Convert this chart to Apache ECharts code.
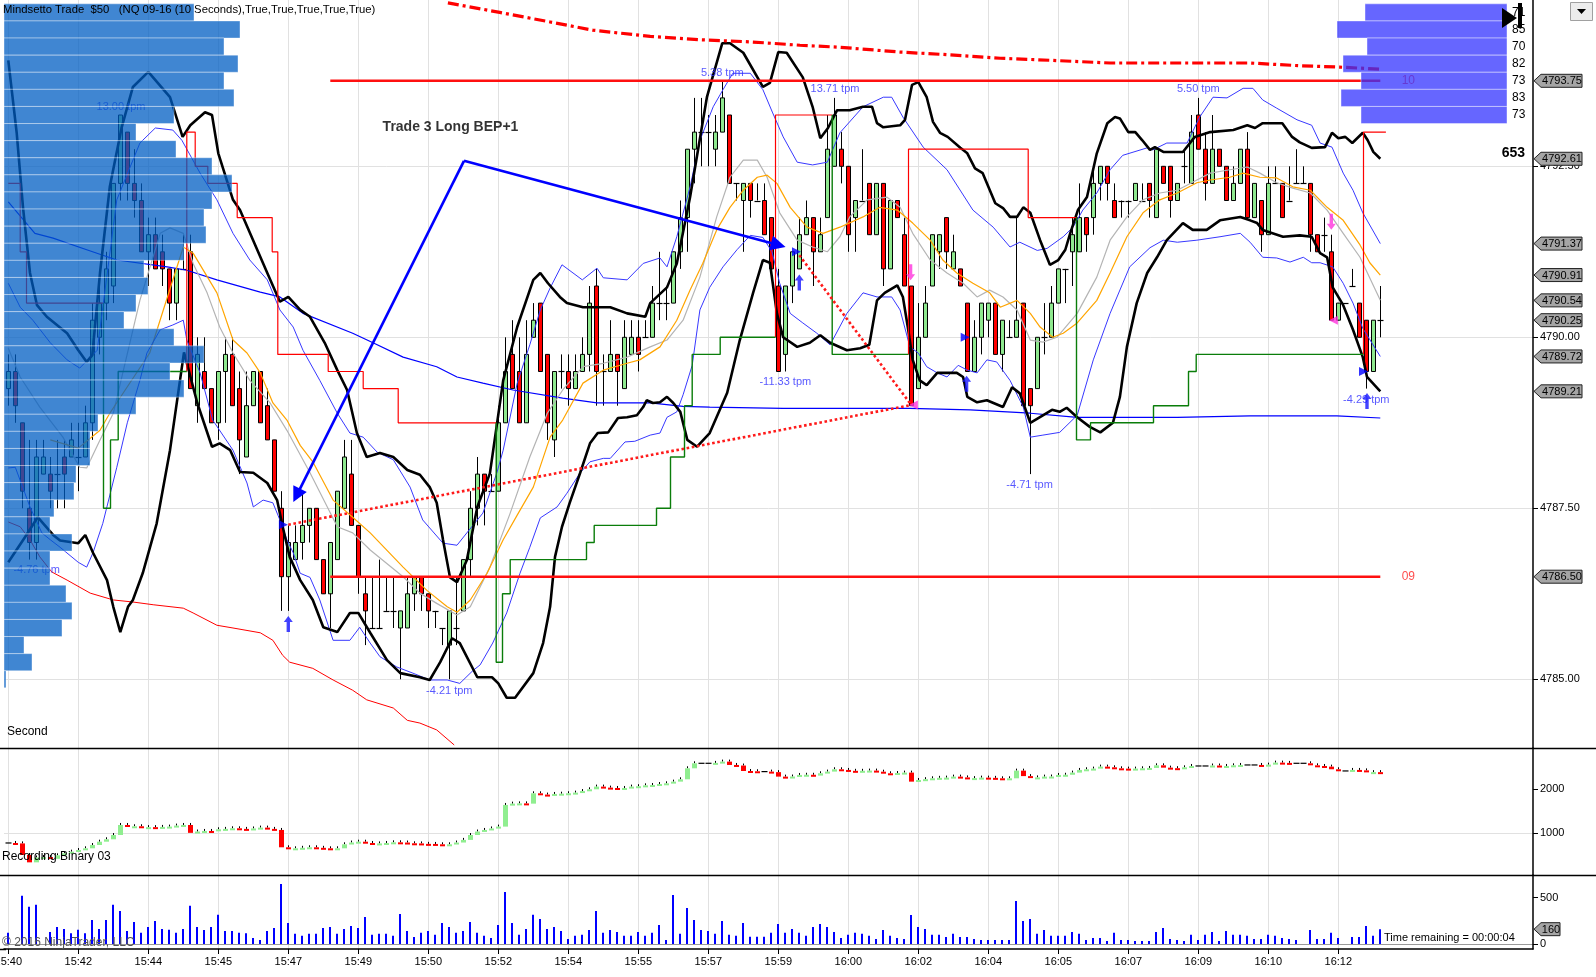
<!DOCTYPE html>
<html>
<head>
<meta charset="utf-8">
<script src="https://cdn.jsdelivr.net/npm/echarts@6/dist/echarts.min.js"></script>
<style>html,body{margin:0;padding:0;background:#fff;overflow:hidden}#chart{width:1596px;height:977px}</style>
</head>
<body>
<div id="chart"></div>
<script>
// ---------------- DATA ----------------
const timeLabels = ['15:40','15:42','15:44','15:45','15:47','15:49','15:50','15:52','15:54','15:55','15:57','15:59','16:00','16:02','16:04','16:05','16:07','16:09','16:10','16:12'];
const timeTickIdx = [0,10,20,30,40,50,60,70,80,90,100,110,120,130,140,150,160,170,180,190];
const priceTicks = [4785, 4787.5, 4790, 4792.5];
const binaryTicks = [1000, 2000];
const volumeTicks = [0, 500];

// [open, close, low, high] per 10-second bar
const priceBars = [
[4789.25,4789.5,4789,4789.75],[4789.5,4789,4788.75,4789.75],[4788.75,4787.75,4787.5,4788.75],[4787.5,4787,4786.75,4788.5],[4787,4788.25,4786.75,4788.5],
[4788,4788.25,4788,4788.5],[4788,4787.75,4787.5,4788.25],[4788,4788,4787.5,4788.5],[4788.25,4788,4787.5,4788.5],[4788.25,4788.5,4788.25,4788.75],
[4788.25,4788.25,4787.75,4788.75],[4788.25,4788.75,4788.25,4789],[4788.75,4790.25,4788.5,4790.5],[4790,4790.5,4789.75,4790.75],[4790.5,4791,4790.25,4791.25],
[4790.75,4792.25,4790.5,4792.25],[4792.25,4793.25,4792,4793.25],[4793,4792.25,4792,4793],[4792.25,4792,4791.75,4792.75],[4792,4791.25,4791.25,4792.25],
[4791.25,4791.5,4790.75,4791.75],[4791.5,4791,4791,4791.75],[4791.25,4791,4790.75,4791.5],[4791,4790.5,4790.25,4791],[4790.5,4791,4790.25,4791],
[4791,4791,4791,4791.5],[4791.25,4789.25,4789.25,4791.5],[4789,4789.75,4788.75,4790],[4789.5,4789.25,4789.25,4790],[4789.25,4788.75,4788.75,4789.25],
[4788.75,4789.5,4788.5,4789.5],[4789.5,4789.75,4788.75,4790],[4789.75,4789,4789,4790],[4789.25,4788.5,4788,4789.5],[4788.25,4789,4788.25,4789.5],
[4789,4789.5,4789,4789.5],[4789.5,4788.75,4788.75,4789.5],[4789,4788.5,4788.5,4789.25],[4788.5,4787.75,4787.75,4788.5],[4787.5,4786.5,4786,4787.75],
[4786.5,4787,4786,4787.25],[4786.75,4787,4786.75,4787.25],[4787,4787.25,4786.75,4787.75],[4787.25,4787.5,4787,4787.5],[4787.5,4786.75,4786.75,4787.5],
[4786.75,4786.25,4786.25,4786.75],[4786.25,4787,4785.75,4787],[4786.75,4787.75,4786.75,4787.75],[4787.5,4788.25,4787.5,4788.5],[4788,4787.25,4787.25,4788.5],
[4787.25,4786.5,4786.25,4787.25],[4786.25,4786,4785.5,4786.5],[4785.75,4785.75,4785.75,4786.5],[4785.75,4785.75,4785.75,4786.75],[4786,4786,4786,4786.5],
[4786,4786,4785.75,4786.5],[4785.75,4786,4785,4786],[4785.75,4786.25,4785.75,4786.5],[4786.25,4786.5,4786,4786.5],[4786.5,4786.25,4786,4786.5],
[4786.25,4786,4785.75,4786.25],[4786,4786,4785.75,4786],[4785.75,4785.75,4785.5,4785.75],[4785.5,4786,4785,4786],[4785.75,4785.75,4785.5,4786.5],
[4786,4786.75,4786,4786.75],[4786.75,4787.5,4786.5,4787.75],[4787.5,4788,4787.25,4788.25],[4788,4787.75,4787.25,4788],[4787.75,4787.75,4787.75,4788],
[4787.75,4788.75,4787.75,4789],[4788.75,4789.5,4788.75,4790],[4789.75,4789.25,4789.25,4790.25],[4789.5,4788.75,4788.75,4790],[4788.75,4789.75,4788.75,4790.25],
[4790,4790.25,4790,4790.5],[4790.5,4789.5,4789.5,4790.5],[4789.75,4788.75,4788.5,4789.75],[4788.5,4789.5,4788.25,4789.5],[4789.5,4789.5,4789.25,4789.75],
[4789.5,4789.25,4789,4789.75],[4789.25,4789.5,4789.25,4789.75],[4789.5,4789.75,4789.5,4790],[4789.75,4790.5,4789.5,4790.75],[4790.75,4789.5,4789,4791],
[4789.5,4789.5,4789,4789.75],[4789.5,4789.75,4789.5,4790.25],[4789.75,4789.5,4789,4789.75],[4789.25,4790,4789.25,4790.25],[4789.75,4790,4789.75,4790.25],
[4790,4789.75,4789.5,4790.25],[4790,4790,4790,4790.25],[4790,4790.5,4790,4790.75],[4790.5,4790.5,4790.25,4791.25],[4790.5,4790.5,4790.25,4790.75],
[4790.5,4791.25,4790.5,4791.25],[4791.25,4791.75,4791,4792],[4791.75,4792.75,4791.25,4792.75],[4792.75,4793,4792.25,4793.5],[4793,4793,4792.5,4793.5],
[4793,4793,4792.5,4793.25],[4792.75,4793,4792.5,4793.25],[4793,4793.5,4793,4793.75],[4793.25,4792.25,4792.25,4793.25],[4792.25,4792.25,4792,4792.25],
[4792,4792.25,4791.25,4792.25],[4792.25,4792,4791.75,4792.25],[4792,4792,4792,4792.25],[4792,4791.5,4791.5,4792.25],[4791.75,4791,4791,4791.75],
[4790.75,4789.5,4789.5,4791],[4789.75,4790.75,4789.5,4790.75],[4790.75,4791.25,4790.5,4791.25],[4791,4791.5,4791,4791.75],[4791.5,4791.75,4791.5,4792],
[4791.75,4791.25,4790.75,4791.75],[4791.25,4791.5,4791.25,4791.75],[4791.75,4792.75,4791.75,4793.25],[4792.5,4793.25,4792.5,4793.5],[4792.75,4792.5,4792.25,4793],
[4792.5,4791.5,4791.25,4792.5],[4791.75,4792,4791.25,4792],[4792,4792,4792,4792.75],[4792.25,4791.5,4791.5,4792.25],[4791.5,4792.25,4791.5,4792.25],
[4792.25,4791,4790.75,4792.25],[4791,4792,4791,4792],[4792,4791.75,4791.75,4792],[4791.5,4790.75,4790.75,4791.75],[4790.75,4789,4789,4790.75],
[4789.25,4790,4789.25,4790.5],[4790,4790.5,4790,4790.75],[4790.75,4791.5,4790.75,4791.5],[4791.25,4791.5,4791,4791.5],[4791.75,4791.25,4791,4791.75],
[4791,4791.25,4791,4791.5],[4791,4790.75,4790.75,4791],[4790.5,4789.5,4789.5,4790.5],[4789.5,4790,4789.5,4790.25],[4790,4790.5,4789.75,4790.5],
[4790.25,4790.5,4790,4790.5],[4790.5,4789.75,4789.75,4790.5],[4789.75,4790.25,4789.5,4790.25],[4790,4790,4790,4790.25],[4790,4790.25,4790,4791.75],
[4790.5,4789,4789,4790.5],[4789.25,4789,4788,4789.25],[4789.25,4790,4789.25,4790],[4790,4790,4789.75,4790.5],[4790,4790.5,4790,4790.75],
[4790.5,4791,4790.5,4791],[4791,4791,4790.5,4791],[4791.25,4791.5,4790.75,4791.75],[4791.25,4791.75,4791.25,4792.25],[4791.75,4791.5,4791.25,4791.75],
[4791.75,4792.25,4791.5,4792.5],[4792.25,4792.5,4792,4792.5],[4792.5,4792.25,4792,4792.5],[4792,4791.75,4791.75,4792.25],[4792,4792,4791.75,4792],
[4792,4792,4791.75,4792],[4792,4792.25,4792,4792.25],[4792,4792,4792,4792.25],[4792.25,4792,4791.75,4792.25],[4791.75,4792.75,4791.75,4792.75],
[4792.5,4792.25,4792.25,4792.5],[4792.5,4792,4791.75,4792.5],[4792,4792.25,4792,4792.25],[4792.5,4792.5,4792.25,4792.75],[4792.25,4793,4792.25,4793.25],
[4793.25,4792.75,4792.75,4793.5],[4792.75,4792.25,4792,4793],[4792.25,4792.75,4792.25,4793.25],[4792.75,4792.5,4792.5,4792.75],[4792.5,4792,4792,4792.5],
[4792,4792.25,4792,4792.5],[4792.25,4792.75,4792.25,4792.75],[4792.75,4791.75,4791.75,4793],[4791.75,4792.25,4791.75,4792.25],[4792,4791.5,4791.25,4792],
[4791.5,4792.25,4791.5,4792.5],[4792.25,4792.25,4792.25,4792.5],[4792.25,4791.75,4791.75,4792.25],[4792,4792,4792,4792.5],[4792.25,4792.25,4792.25,4792.75],
[4792.25,4792.25,4792.25,4792.5],[4792.25,4791.5,4791.25,4792.25],[4791.5,4791.25,4791.25,4791.5],[4791.5,4791.5,4791.25,4791.75],[4791.25,4790.25,4790.25,4791.5],
[4790.25,4790.5,4790.25,4790.5],[4790.5,4790.5,4790.5,4790.5],[4790.75,4790.75,4790.75,4791],[4790.5,4790,4790,4790.5],[4790.25,4789.5,4789.25,4790.25],
[4789.5,4790.25,4789.5,4790.25],[4790.25,4790.25,4790,4790.75]
];

// indicator plots: [bar index, price]
const blackUpper = [[0,4794.05],[1.2,4792.99],[2.1,4791.90],[3.1,4790.94],[4.1,4790.47],[5.5,4790.30],[8.4,4790.06],[10,4789.81],[11.2,4789.64],[12,4789.74],[13.1,4790.94],[14.5,4792.20],[16.2,4793.07],[17.8,4793.66],[20,4793.88],[23.1,4793.51],[24.9,4792.93],[26,4793.10],[28.1,4793.29],[29.1,4793.25],[30,4792.69],[32.1,4792.01],[33.1,4791.86],[37,4790.94],[38.8,4790.52],[40,4790.59],[41.7,4790.40],[43.1,4790.30],[45.2,4789.92],[47,4789.52],[48.4,4789.23],[49.8,4788.60],[51.2,4788.25],[53.1,4788.31],[55,4788.25],[57,4788.06],[58.8,4787.99],[60.2,4787.81],[61.2,4787.58],[62.1,4787.04],[63.1,4786.49],[64.1,4786.42],[65.5,4786.74],[67,4787.52],[68.8,4788.01],[70.7,4789.37],[72.7,4790.15],[75,4790.84],[76,4790.94],[77.1,4790.79],[78.8,4790.59],[79.8,4790.50],[82.1,4790.44],[86,4790.44],[88.4,4790.35],[91,4790.30],[91.7,4790.50],[94.1,4790.73],[95.5,4791.08],[97.4,4792.05],[99.8,4793.51],[102,4794.30],[103.1,4794.30],[105,4794.16],[107.8,4793.66],[108.8,4793.72],[110,4794.17],[111.2,4794.16],[113.5,4793.80],[114.9,4793.37],[116,4792.91],[117.1,4793.06],[118.4,4793.32],[120.2,4793.32],[122.1,4793.37],[123.4,4793.37],[124.1,4793.13],[125,4793.07],[127.4,4793.10],[128.1,4793.18],[129.1,4793.69],[130,4793.73],[131.2,4793.51],[132.1,4793.15],[133.1,4792.99],[134.2,4792.93],[136,4792.77],[137,4792.69],[138.1,4792.47],[139.2,4792.40],[141,4791.96],[142.1,4791.89],[143.1,4791.76],[144.1,4791.76],[145,4791.90],[146,4791.82],[147.4,4791.42],[148.8,4791.06],[150,4791.13],[151,4791.28],[151.7,4791.52],[152.8,4791.86],[154.1,4792.05],[155.5,4792.69],[157,4793.13],[158.1,4793.22],[158.8,4793.20],[160,4793.00],[161,4793.00],[162,4792.88],[163.1,4792.74],[163.8,4792.78],[165,4792.71],[167.8,4792.71],[169.5,4792.93],[171.7,4793.00],[175,4793.03],[177,4793.10],[178.1,4793.06],[179.2,4793.13],[182,4793.13],[183.4,4792.93],[184.5,4792.85],[186.2,4792.77],[188.1,4792.78],[189.1,4792.99],[190,4792.91],[191,4792.93],[192,4792.84],[193.5,4792.99],[194.2,4792.88],[195,4792.71],[196,4792.61]];
const blackLower = [[0,4786.71],[2.4,4787.08],[4.2,4787.37],[6.4,4787.11],[7.4,4787.03],[10,4786.99],[11,4787.11],[12.1,4786.85],[14.1,4786.45],[15,4786.06],[16,4785.69],[17.1,4786.06],[17.8,4786.16],[19.2,4786.55],[21.2,4787.28],[23.1,4788.35],[25.1,4789.78],[27,4789.04],[29.1,4788.40],[30.2,4788.45],[31.7,4788.35],[33.1,4788.03],[35,4788.02],[37,4787.87],[38.4,4787.62],[39.2,4787.23],[40.2,4786.79],[41.7,4786.45],[43.5,4786.16],[45,4785.76],[47,4785.69],[48.8,4785.97],[50,4785.97],[51.7,4785.68],[54.1,4785.28],[56,4785.09],[58.8,4785.03],[60.2,4784.99],[61.7,4785.25],[63.4,4785.60],[64.5,4785.53],[67,4785.03],[69.1,4785.03],[70,4784.94],[71.2,4784.73],[72.4,4784.73],[75,4785.09],[76.4,4785.53],[77.4,4786.06],[78.1,4786.79],[79.1,4787.23],[80.2,4787.58],[81.7,4788.02],[83.1,4788.45],[84.2,4788.60],[85.7,4788.61],[87.1,4788.82],[88.4,4788.83],[89.8,4788.86],[90.7,4788.98],[91.2,4789.08],[92.1,4789.04],[93.1,4789.05],[94.1,4789.13],[95,4789.04],[96,4788.91],[97,4788.50],[98.4,4788.40],[100.2,4788.60],[102.7,4789.19],[104.5,4789.96],[106.4,4790.65],[107.8,4791.13],[108.8,4791.09],[109.8,4790.35],[110.7,4790.00],[112.7,4789.86],[114.5,4789.92],[116,4790.03],[117.4,4789.92],[119.8,4789.81],[121.7,4789.84],[123,4789.89],[124.1,4790.54],[125.2,4790.65],[127,4790.76],[127.8,4790.59],[128.5,4790.15],[129.2,4789.67],[130.2,4789.37],[131.2,4789.30],[132.7,4789.48],[134.1,4789.48],[135.5,4789.48],[136.4,4789.42],[137,4789.13],[138.4,4789.05],[139.8,4789.08],[142.1,4788.98],[143.4,4789.27],[144.5,4789.18],[146,4788.75],[147.8,4788.86],[149.1,4788.94],[150.2,4788.91],[151.2,4788.97],[152.7,4788.83],[154.5,4788.69],[156,4788.61],[157.8,4788.75],[158.8,4789.13],[159.8,4789.86],[161.2,4790.50],[162.7,4790.94],[164.1,4791.17],[165.5,4791.42],[167.8,4791.67],[169.2,4791.57],[171.2,4791.57],[173.1,4791.71],[176,4791.76],[177.4,4791.71],[178.4,4791.67],[179.2,4791.57],[182.1,4791.47],[184.5,4791.49],[186.2,4791.47],[187.4,4791.23],[188.4,4791.17],[189.2,4790.73],[190.7,4790.47],[192.1,4790.11],[193.5,4789.71],[194.1,4789.42],[196,4789.21]];
const blueUpper = [[0,4790.79],[1.7,4790.44],[3.5,4790.25],[6,4789.92],[8.4,4789.67],[10.2,4789.55],[12.7,4789.81],[15.5,4792.01],[18.8,4792.84],[21,4793.06],[23.5,4793.03],[24.8,4792.88],[27.4,4792.40],[29.8,4792.01],[32.1,4791.52],[34.5,4791.13],[37,4790.84],[38.8,4790.40],[40.7,4790.15],[42.1,4789.81],[44.5,4789.37],[47,4788.89],[48.8,4788.60],[50.7,4788.54],[52.7,4788.32],[55,4788.21],[57.4,4787.81],[59.2,4787.33],[62.1,4786.99],[64.1,4786.96],[65.5,4787.14],[67.8,4787.43],[69.8,4788.02],[70.7,4788.35],[72.7,4789.33],[74.5,4789.89],[76,4790.40],[77.4,4790.72],[79.1,4791.06],[82,4790.84],[84.1,4791.01],[85,4790.87],[88.4,4790.84],[90.7,4791.08],[93.1,4791.16],[94.1,4791.03],[95.5,4791.47],[97.4,4792.20],[98.8,4792.88],[100.7,4793.37],[102.1,4793.62],[103.5,4793.86],[106,4793.86],[107.8,4793.62],[109.2,4793.28],[110.7,4792.93],[112.7,4792.56],[114.9,4792.52],[117,4792.56],[118.8,4792.99],[122.1,4793.37],[125,4793.51],[126.2,4793.51],[127.8,4793.22],[130.7,4792.78],[134.1,4792.45],[137.8,4791.86],[140.7,4791.61],[143.1,4791.32],[144.5,4791.39],[147,4791.27],[148.4,4791.30],[150.7,4791.47],[152.1,4791.61],[153.5,4791.86],[155.5,4792.11],[157.4,4792.45],[159.2,4792.66],[162.7,4792.77],[163.5,4792.74],[165.5,4792.84],[168.4,4792.84],[170.2,4793.22],[172.1,4793.51],[174.1,4793.50],[176.4,4793.64],[177.8,4793.64],[179.2,4793.47],[181.2,4793.35],[184.1,4793.18],[186.2,4793.10],[187.4,4792.84],[189.1,4792.78],[190.7,4792.40],[192.1,4792.15],[193.5,4791.82],[196,4791.37]];
const blueLower = [[0,4788.09],[1,4788.10],[3.1,4787.52],[4.8,4787.14],[6,4787.04],[7.4,4786.93],[10,4786.71],[11.2,4786.64],[12.1,4786.85],[13.5,4787.28],[15.5,4788.10],[17,4788.75],[18.8,4789.37],[19.8,4789.77],[21.7,4790.11],[23.5,4790.18],[25,4790.25],[25.5,4789.96],[27.4,4789.48],[29.2,4788.79],[32.1,4788.35],[34.1,4787.87],[35,4787.52],[36.4,4787.62],[37.8,4787.58],[38.8,4787.33],[39.8,4787.04],[40.7,4786.85],[41.7,4786.55],[43.1,4786.49],[44.5,4786.16],[46.4,4785.57],[48.8,4785.57],[50.2,4785.76],[51.7,4785.53],[53.1,4785.33],[55.5,4785.18],[57.8,4785.09],[60.2,4784.99],[62.7,4784.99],[64.5,4784.94],[66.4,4785.13],[67.4,4785.21],[69.2,4785.53],[71.2,4785.97],[73.1,4786.55],[74.5,4786.93],[76,4787.36],[78.4,4787.52],[79.8,4787.72],[81.7,4788.02],[83.1,4788.18],[85,4788.23],[86,4788.23],[88.1,4788.47],[89.5,4788.48],[91.7,4788.57],[93.1,4788.60],[94.1,4788.83],[95.5,4788.91],[96.4,4789.16],[97.7,4789.59],[98.8,4790.40],[100.2,4790.73],[102.1,4791.03],[104.1,4791.28],[106,4791.49],[107.8,4791.46],[109.1,4791.25],[110.2,4790.79],[111.7,4790.35],[113.5,4790.21],[115.5,4790.06],[117.4,4789.89],[119.8,4790.35],[122.1,4790.65],[124.1,4790.59],[126.2,4790.59],[127.4,4790.40],[128.8,4789.86],[130,4789.77],[131.2,4789.57],[132.7,4789.48],[134.1,4789.42],[135.7,4789.59],[137,4789.52],[138.4,4789.48],[139.8,4789.67],[141.2,4789.64],[143.1,4789.37],[145,4788.98],[146,4788.54],[147.8,4788.57],[150.2,4788.61],[152.7,4788.86],[155,4789.67],[157.4,4790.35],[160.2,4791.03],[163.1,4791.31],[165,4791.42],[167,4791.39],[169.8,4791.42],[173.1,4791.47],[176,4791.52],[177.4,4791.39],[179.2,4791.17],[181.2,4791.16],[183.1,4791.10],[185,4791.17],[186.2,4791.09],[187.4,4791.09],[189.2,4791.03],[190.7,4790.79],[192.1,4790.50],[193.5,4790.13],[196,4789.72]];
const blueSlow = [[0,4791.98],[3.8,4791.52],[6.4,4791.45],[11.2,4791.28],[15.5,4791.13],[22.7,4791.03],[25.5,4790.98],[29.8,4790.84],[36,4790.66],[38.8,4790.59],[42.1,4790.35],[49.2,4790.06],[52.1,4789.92],[56.4,4789.71],[61.2,4789.57],[64.1,4789.42],[67.8,4789.33],[72.1,4789.23],[79.2,4789.11],[84.1,4789.04],[91.7,4789.04],[96.4,4788.99],[100.2,4788.98],[110.7,4788.96],[118.8,4788.96],[128.8,4788.96],[137.4,4788.94],[146,4788.89],[152.7,4788.83],[158.8,4788.83],[167,4788.83],[177.4,4788.85],[189.8,4788.85],[196,4788.82]];
const orangeMA = [[6,4788.50],[10,4788.38],[13.1,4788.64],[14.5,4788.89],[20.2,4789.77],[25,4791.32],[26.4,4791.23],[29.8,4790.65],[32.1,4789.96],[34.1,4789.77],[36,4789.48],[37.8,4789.04],[39.8,4788.79],[41.7,4788.42],[43.5,4788.18],[46.4,4787.62],[49.2,4787.37],[51.7,4787.14],[56.4,4786.64],[59.8,4786.30],[62.7,4786.06],[64.1,4785.98],[66,4786.16],[68.4,4786.55],[70.7,4787.04],[72.7,4787.40],[75,4787.81],[77.4,4788.54],[79.2,4788.79],[82.1,4789.33],[85,4789.52],[88.4,4789.62],[90.2,4789.67],[93.1,4789.86],[95.5,4790.25],[97.4,4790.69],[99.2,4791.08],[101.2,4791.57],[103.1,4791.90],[105,4792.15],[107,4792.34],[108.4,4792.37],[109.8,4792.25],[111.7,4791.90],[114.1,4791.61],[116.4,4791.52],[118.8,4791.61],[122.1,4791.76],[124.5,4791.90],[127,4791.86],[129.2,4791.67],[131.7,4791.42],[133.5,4791.13],[135.5,4790.94],[137.8,4790.79],[140.2,4790.65],[141.7,4790.44],[144.1,4790.54],[146,4790.35],[147.4,4790.15],[149.2,4790.00],[150.7,4790.06],[152.7,4790.21],[155.5,4790.54],[157.4,4790.94],[159.8,4791.47],[162.1,4791.82],[164.5,4792.01],[167,4792.11],[169.8,4792.26],[171.7,4792.30],[174.5,4792.34],[176.4,4792.40],[178.8,4792.34],[181.2,4792.33],[183.5,4792.20],[186,4792.15],[188.4,4791.90],[190.7,4791.71],[193.1,4791.35],[194.5,4791.09],[196,4790.91]];
const grayMA = [[0,4789.84],[1.7,4789.42],[4.5,4788.98],[7.8,4788.54],[10.2,4788.10],[11.2,4788.09],[13.1,4788.50],[15,4788.89],[18.8,4790.54],[21.7,4791.52],[23.1,4791.60],[25,4791.52],[26.4,4791.08],[28.4,4790.65],[30.2,4790.15],[32.1,4789.77],[34.5,4789.37],[37.4,4789.04],[39.8,4788.64],[43.1,4788.02],[47,4787.23],[49.2,4787.14],[51.7,4786.89],[56.4,4786.50],[58.8,4786.26],[61.2,4786.11],[64.1,4785.94],[66,4786.06],[68.8,4786.64],[71.7,4787.43],[74.5,4788.25],[77,4788.89],[79.2,4789.23],[82.1,4789.57],[85,4789.62],[88.4,4789.71],[91.7,4789.86],[94.1,4789.96],[96.4,4790.25],[98.8,4790.88],[101.2,4791.76],[103.1,4792.34],[105,4792.59],[107,4792.59],[108.4,4792.34],[110.2,4791.82],[112.7,4791.42],[114.9,4791.32],[117,4791.25],[118.8,4791.47],[120.2,4791.76],[122.7,4792.01],[125.5,4792.05],[127.4,4791.90],[129.2,4791.52],[131.7,4791.13],[134.1,4790.94],[136.4,4790.79],[138.4,4790.59],[140.2,4790.69],[142.1,4790.59],[144.1,4790.40],[146,4789.96],[147.8,4789.93],[149.8,4790.00],[152.7,4790.35],[155.5,4790.88],[157.4,4791.42],[159.8,4791.76],[162.1,4792.01],[164.5,4792.11],[167,4792.15],[169.8,4792.30],[171.7,4792.40],[174.5,4792.45],[177,4792.49],[178.8,4792.40],[181.2,4792.26],[183.5,4792.18],[186,4792.11],[188.4,4791.86],[190.7,4791.52],[193.1,4791.17],[196,4790.54]];
const redLowerEnvelope = [[0,4787.30],[1.7,4787.23],[3.1,4787.04],[4.5,4786.79],[6.2,4786.57],[8.4,4786.45],[11.7,4786.26],[15,4786.16],[17.8,4786.13],[20.7,4786.09],[25,4786.04],[26.4,4785.97],[29.8,4785.79],[32.1,4785.75],[36,4785.68],[37.8,4785.57],[39.2,4785.35],[40.2,4785.25],[43.5,4785.16],[46.4,4784.99],[49.2,4784.84],[51.2,4784.70],[55,4784.58],[57,4784.40],[58.8,4784.36],[61.2,4784.26],[63.7,4784.04]];
const redUpperEnvelope = [[62.8,4794.89],[70.2,4794.75],[77.4,4794.61],[83.5,4794.49],[91.7,4794.40],[98.8,4794.35],[105.9,4794.32],[113.1,4794.27],[118.8,4794.24],[127.4,4794.17],[134.5,4794.13],[141.7,4794.08],[148.8,4794.05],[157.4,4794.01],[170.2,4794.01],[177.4,4794.01],[184.5,4793.97],[190.2,4793.95],[195.9,4793.92]];

// trailing stop line segments
const stopRed = [
 [[0,4792.25],[1.7,4792.25],[1.7,4791.25],[2.6,4791.25],[2.6,4790.5],[13.6,4790.5]],
 [[25.5,4789.5],[25.5,4793],[26.7,4793],[26.7,4792.5],[28.5,4792.5],[28.5,4792.25],[32.7,4792.25],[32.7,4791.75],[37.7,4791.75],[37.7,4791.25],[38.5,4791.25],[38.5,4789.75],[45.7,4789.75],[45.7,4789.5],[50.7,4789.5],[50.7,4789.25],[55.7,4789.25],[55.7,4788.75],[69.7,4788.75]],
 [[109.6,4790],[109.6,4793.25],[117.7,4793.25]],
 [[128.6,4789.75],[128.6,4792.75],[145.7,4792.75],[145.7,4791.75],[152.6,4791.75]],
 [[193.6,4789.75],[193.6,4793],[196.8,4793]]
];
const stopGreen = [
 [[13.6,4790.5],[13.6,4787.5],[14.6,4787.5],[14.6,4788.5],[15.7,4788.5],[15.7,4789.5],[25.5,4789.5]],
 [[69.7,4788.75],[69.7,4785.25],[70.6,4785.25],[70.6,4786.25],[71.7,4786.25],[71.7,4786.75],[82.6,4786.75],[82.6,4787],[83.7,4787],[83.7,4787.25],[92.6,4787.25],[92.6,4787.5],[94.6,4787.5],[94.6,4788.25],[96.6,4788.25],[96.6,4789],[97.7,4789],[97.7,4789.75],[101.7,4789.75],[101.7,4790],[109.6,4790]],
 [[117.7,4793.25],[117.7,4789.75],[128.6,4789.75]],
 [[152.6,4791.75],[152.6,4788.5],[154.6,4788.5],[154.6,4788.75],[163.6,4788.75],[163.6,4789],[168.6,4789],[168.6,4789.5],[169.7,4789.5],[169.7,4789.75],[193.6,4789.75]]
];
const keyLevels = [4793.75, 4786.5];
const keyLevelSpan = [46, 196];
const levelTags = [[200,4793.75,'10'],[200,4786.5,'09']];
const tradeLine = [[41.2,4787.69],[65.1,4792.58],[110,4791.35]];
const tradeLinks = [[[40,4787.26],[129,4789.01]], [[113,4791.2],[129,4789.01]]];
const entryMarks = [[39.3,4787.26],[112.6,4791.25],[136.7,4790.0],[193.6,4789.5]];
const exitMarks = [[129.3,4789.01],[189.3,4790.25]];
const buyArrows = [[40,4785.81],[113,4790.8],[136.9,4789.32],[194.1,4789.07]];
const sellArrows = [[128.9,4790.95],[189,4791.69]];
const tpmLabels = [[16.1,4793.37,'13.00 tpm'],[4.05,4786.6,'-4.76 tpm'],[63,4784.83,'-4.21 tpm'],[102,4793.87,'5.38 tpm'],[111,4789.34,'-11.33 tpm'],[118.1,4793.63,'13.71 tpm'],[145.9,4787.84,'-4.71 tpm'],[170,4793.63,'5.50 tpm'],[194,4789.09,'-4.29 tpm']];
const tradeNote = [[53.4,4793.07,'Trade 3 Long BEP+1']];

// volume profiles: [price, volume]
const leftProfile = [[4794.75,95],[4794.5,118],[4794.25,110],[4794,117],[4793.75,110],[4793.5,115],[4793.25,85],[4793,66],[4792.75,86],[4792.5,104],[4792.25,114],[4792,104],[4791.75,100],[4791.5,101],[4791.25,90],[4791,70],[4790.75,72],[4790.5,66],[4790.25,60],[4790,85],[4789.75,100],[4789.5,83],[4789.25,90],[4789,66],[4788.75,47],[4788.5,43],[4788.25,43],[4788,36],[4787.75,35],[4787.5,25],[4787.25,23],[4787,34],[4786.75,23],[4786.5,23],[4786.25,31],[4786,34],[4785.75,29],[4785.5,10],[4785.25,14],[4785,1]];
const rightProfile = [[4794.75,71],[4794.5,85],[4794.25,70],[4794,82],[4793.75,73],[4793.5,83],[4793.25,73]];
const priceMarkers = [4793.75, 4792.61, 4791.37, 4790.91, 4790.54, 4790.25, 4789.72, 4789.21, 4786.50];

// Recording Binary panel closes per bar
const binaryCloses = [780,770,507,340,450,460,420,500,545,582,
620,659,734,809,864,961,1189,1150,1160,1136,
1140,1136,1145,1152,1175,1189,1010,1040,1053,1045,
1091,1100,1114,1100,1091,1110,1129,1100,1076,682,
636,659,670,682,670,659,650,659,750,790,
809,780,750,770,780,795,790,773,770,760,
758,750,740,750,790,850,961,1040,1076,1110,
1152,1644,1674,1680,1674,1909,1880,1871,1894,1900,
1910,1924,1960,2000,2061,2038,2030,2023,2030,2061,
2070,2090,2098,2120,2136,2174,2227,2477,2591,2591,
2591,2600,2629,2553,2540,2416,2410,2402,2402,2390,
2288,2273,2290,2326,2330,2311,2364,2402,2455,2440,
2420,2417,2420,2425,2400,2364,2341,2370,2379,2174,
2212,2230,2250,2260,2265,2288,2270,2250,2255,2265,
2260,2250,2240,2250,2424,2300,2265,2270,2288,2290,
2326,2330,2379,2440,2455,2470,2515,2500,2477,2470,
2462,2470,2477,2485,2545,2492,2480,2477,2500,2530,
2530,2530,2540,2520,2530,2545,2553,2553,2553,2520,
2560,2606,2600,2591,2591,2591,2545,2530,2515,2455,
2417,2417,2440,2430,2387,2390,2364];
const binaryFirstOpen = 780;

const volumes = [122,0,522,403,425,0,130,184,162,115,
155,115,259,162,259,425,356,140,238,122,
184,248,162,155,122,162,414,184,151,184,
317,140,140,122,115,65,43,140,173,648,
227,112,90,112,112,173,184,112,162,194,
173,292,101,112,112,90,324,140,76,122,
140,101,227,184,122,140,238,122,90,65,
205,562,227,101,162,317,270,162,184,140,
54,90,101,151,356,122,151,130,90,90,
130,90,122,205,43,529,112,389,259,151,
140,112,248,101,90,227,79,79,79,122,
216,122,162,122,90,184,216,184,130,65,
101,122,112,90,54,151,90,65,54,313,
184,162,101,101,76,112,76,76,54,43,
43,43,43,43,464,248,270,112,151,90,
90,90,130,112,43,65,65,32,122,43,
43,32,32,32,130,173,54,43,32,101,
43,101,130,32,140,101,101,90,54,54,
101,90,65,54,43,0,151,54,54,122,
65,0,76,76,194,90,160];
const volumeMarker = [160];

// ---------------- CHART ----------------
const FONT = "'Liberation Sans', Arial, sans-serif";
const X_MIN = -0.614, X_MAX = 217.814;
const P_MIN = 4783.9956, P_MAX = 4794.9313;
const B_MIN = 52.3, B_MAX = 2938.6;
const V_MIN = -54, V_MAX = 745.1;

const chart = echarts.init(document.getElementById('chart'), null, {renderer: 'canvas'});

function vLine(params, api) {
  const cs = params.coordSys;
  const x = Math.round(api.coord([api.value(0), 0])[0]) + 0.5;
  return {type: 'line', shape: {x1: x, y1: cs.y, x2: x, y2: cs.y + cs.height}, style: {stroke: '#e1e1e1', lineWidth: 1}};
}
function hLineFactory(color) {
  return function (params, api) {
    const cs = params.coordSys;
    const y = Math.round(api.coord([0, api.value(0)])[1]) + 0.5;
    return {type: 'line', shape: {x1: cs.x, y1: y, x2: cs.x + cs.width, y2: y}, style: {stroke: color, lineWidth: 1}};
  };
}
function renderCandle(params, api) {
  const i = api.value(0), o = api.value(1), c = api.value(2), l = api.value(3), h = api.value(4);
  const pO = api.coord([i, o]), pC = api.coord([i, c]), pL = api.coord([i, l]), pH = api.coord([i, h]);
  const x = Math.round(pO[0]) + 0.5;
  const ch = [{type: 'line', shape: {x1: x, y1: pH[1], x2: x, y2: pL[1]}, style: {stroke: '#000', lineWidth: 1}}];
  if (o === c) {
    ch.push({type: 'line', shape: {x1: x - 3, y1: Math.round(pO[1]) + 0.5, x2: x + 3, y2: Math.round(pO[1]) + 0.5}, style: {stroke: '#000', lineWidth: 1.2}});
  } else {
    const top = Math.min(pO[1], pC[1]);
    ch.push({type: 'rect', shape: {x: x - 2, y: top, width: 4, height: Math.abs(pO[1] - pC[1])}, style: {fill: c > o ? '#8ee88e' : '#ff0000', stroke: '#000', lineWidth: 1}});
  }
  return {type: 'group', children: ch};
}
function renderMini(params, api) {
  const i = api.value(0), o = api.value(1), c = api.value(2);
  const pO = api.coord([i, o]), pC = api.coord([i, c]);
  const x = Math.round(pO[0]) + 0.5;
  if (o === c) {
    return {type: 'line', shape: {x1: x - 3, y1: pO[1], x2: x + 3, y2: pO[1]}, style: {stroke: '#000', lineWidth: 1.2}};
  }
  const top = Math.min(pO[1], pC[1]);
  const hgt = Math.max(2, Math.abs(pO[1] - pC[1]));
  return {type: 'group', children: [
    {type: 'line', shape: {x1: x, y1: top - 2, x2: x, y2: top}, style: {stroke: '#000', lineWidth: 1}},
    {type: 'rect', shape: {x: x - 2.5, y: top, width: 5, height: hgt}, style: {fill: c > o ? '#90ee90' : '#ff0000'}}
  ]};
}
function renderVol(params, api) {
  const i = api.value(0), v = api.value(1);
  if (!v) return null;
  const p0 = api.coord([i, 0]), p1 = api.coord([i, v]);
  const x = Math.round(p0[0]);
  return {type: 'rect', shape: {x: x - 1, y: p1[1], width: 2, height: p0[1] - p1[1]}, style: {fill: '#0000ff'}};
}
function flagFactory(bodyLen, decimals) {
  return function (params, api) {
    const cs = params.coordSys;
    const v = api.value(0);
    const y = api.coord([0, v])[1];
    const x0 = cs.x + cs.width;
    return {type: 'group', children: [
      {type: 'polygon', shape: {points: [[x0 + 1, y], [x0 + 8, y - 6.5], [x0 + bodyLen, y - 6.5], [x0 + bodyLen, y + 6.5], [x0 + 8, y + 6.5]]}, style: {fill: '#a5a5a5', stroke: '#222', lineWidth: 1}},
      {type: 'text', x: x0 + (bodyLen + 9) / 2, y: y + 0.5, style: {text: v.toFixed(decimals), fill: '#000', font: '11px ' + FONT, align: 'center', verticalAlign: 'middle', textAlign: 'center', textVerticalAlign: 'middle'}}
    ]};
  };
}
function renderLeftProfile(params, api) {
  const v = api.value(0), p = api.value(1);
  const a = api.coord([0, p + 0.125]), b = api.coord([v, p - 0.125]);
  return {type: 'rect', shape: {x: a[0], y: a[1], width: b[0] - a[0], height: b[1] - a[1]}, style: {fill: '#005ec3', opacity: 0.75, stroke: 'rgba(255,255,255,0.5)', lineWidth: 1}};
}
function renderRightProfile(params, api) {
  const v = api.value(0), p = api.value(1);
  const a = api.coord([0, p + 0.125]), b = api.coord([v, p - 0.125]);
  const lab = api.coord([-2.5, p]);
  return {type: 'group', children: [
    {type: 'rect', shape: {x: Math.min(a[0], b[0]), y: a[1], width: Math.abs(a[0] - b[0]), height: b[1] - a[1]}, style: {fill: '#3333ff', opacity: 0.75, stroke: 'rgba(255,255,255,0.55)', lineWidth: 1}},
    {type: 'text', x: lab[0], y: lab[1], style: {text: String(v), fill: '#000', font: '12px ' + FONT, align: 'left', verticalAlign: 'middle', textAlign: 'left', textVerticalAlign: 'middle'}}
  ]};
}
const mkLine = (data, color, width, z, extra) => Object.assign({
  type: 'line', xAxisIndex: 0, yAxisIndex: 0, data: data, symbol: 'none', showSymbol: false,
  silent: true, z: z || 3, animation: false, lineStyle: {color: color, width: width}
}, extra || {});
const textSeries = (items, label, z) => ({
  type: 'scatter', xAxisIndex: 0, yAxisIndex: 0, z: z || 5, silent: true, symbolSize: 1,
  itemStyle: {color: 'rgba(0,0,0,0)'},
  data: items.map(t => ({name: t[2], value: [t[0], t[1]]})),
  label: Object.assign({show: true, formatter: '{b}', fontFamily: FONT}, label)
});

const series = [];
// grid lines
[0, 1, 2].forEach(g => series.push({type: 'custom', xAxisIndex: g, yAxisIndex: g, z: 0, silent: true, data: timeTickIdx.map(v => [v]), renderItem: vLine}));
series.push({type: 'custom', xAxisIndex: 0, yAxisIndex: 0, z: 0, silent: true, data: priceTicks.map(v => [v]), renderItem: hLineFactory('#e1e1e1')});
series.push({type: 'custom', xAxisIndex: 1, yAxisIndex: 1, z: 0, silent: true, data: [[1000]], renderItem: hLineFactory('#e1e1e1')});
series.push({type: 'custom', xAxisIndex: 2, yAxisIndex: 2, z: 0, silent: true, data: [[0]], renderItem: hLineFactory('#9a9a9a')});

// candles
series.push({type: 'custom', xAxisIndex: 0, yAxisIndex: 0, z: 2, silent: true, clip: true,
  data: priceBars.map((b, i) => [i, b[0], b[1], b[2], b[3]]), encode: {x: 0, y: [1, 2, 3, 4]}, renderItem: renderCandle});

// indicator lines
series.push(mkLine(redLowerEnvelope, '#ff0000', 1));
series.push(mkLine(blueSlow, '#0000ff', 1.2));
series.push(mkLine(grayMA, '#b4b4b4', 1.2));
series.push(mkLine(orangeMA, '#ffa500', 1.2));
series.push(mkLine(blueUpper, '#3838ff', 1));
series.push(mkLine(blueLower, '#3838ff', 1));
series.push(mkLine(blackUpper, '#000000', 2.6));
series.push(mkLine(blackLower, '#000000', 2.6));
series.push(mkLine(redUpperEnvelope, '#ff0000', 3.2, 3, {lineStyle: {color: '#ff0000', width: 3.2, type: [11, 4, 3, 4]}}));
stopRed.forEach(s => series.push(mkLine(s, '#ff0000', 1.2)));
stopGreen.forEach(s => series.push(mkLine(s, '#0a7d0a', 1.4)));
keyLevels.forEach(p => series.push(mkLine([[keyLevelSpan[0], p], [keyLevelSpan[1], p]], '#ff1010', 2.4)));
tradeLinks.forEach(s => series.push(mkLine(s, '#ff1a1a', 2.6, 3, {lineStyle: {color: '#ff1a1a', width: 2.6, type: [2.6, 2.6]}})));

// trade arrow
series.push({type: 'lines', coordinateSystem: 'cartesian2d', xAxisIndex: 0, yAxisIndex: 0, z: 4, silent: true,
  symbol: ['none', 'triangle'], symbolSize: [1, 15], lineStyle: {color: '#0000ff', width: 2.6, opacity: 1},
  data: [{coords: [tradeLine[1], tradeLine[0]]}, {coords: [tradeLine[1], tradeLine[2]]}]});

// markers
series.push({type: 'scatter', xAxisIndex: 0, yAxisIndex: 0, z: 6, silent: true, symbol: 'triangle', symbolRotate: -90, symbolSize: 9, itemStyle: {color: '#0000ff'}, data: entryMarks});
series.push({type: 'scatter', xAxisIndex: 0, yAxisIndex: 0, z: 6, silent: true, symbol: 'triangle', symbolRotate: 90, symbolSize: 9, itemStyle: {color: '#ff33dd'}, data: exitMarks});
series.push({type: 'scatter', xAxisIndex: 0, yAxisIndex: 0, z: 6, silent: true, symbol: 'path://M4,0 L8,6 L5.5,6 L5.5,16 L2.5,16 L2.5,6 L0,6 Z', symbolSize: [9, 16], itemStyle: {color: '#1515ff'}, data: buyArrows});
series.push({type: 'scatter', xAxisIndex: 0, yAxisIndex: 0, z: 6, silent: true, symbol: 'path://M2.5,0 L5.5,0 L5.5,10 L8,10 L4,16 L0,10 L2.5,10 Z', symbolSize: [9, 16], itemStyle: {color: '#ff33dd'}, data: sellArrows});

// texts
series.push(textSeries(tpmLabels, {position: 'inside', color: '#2e2eff', fontSize: 11}, 5));
series.push(textSeries(tradeNote, {position: 'right', distance: 0, color: '#000', fontSize: 14, fontWeight: 'bold'}, 5));
series.push(textSeries(levelTags, {position: 'inside', color: '#ff2020', fontSize: 12}, 5));

// volume profiles
series.push({type: 'custom', xAxisIndex: 3, yAxisIndex: 0, z: 10, silent: true, data: leftProfile.map(r => [r[1], r[0]]), renderItem: renderLeftProfile});
series.push({type: 'custom', xAxisIndex: 4, yAxisIndex: 0, z: 10, silent: true, data: rightProfile.map(r => [r[1], r[0]]), renderItem: renderRightProfile});

// price markers on axis
series.push({type: 'custom', xAxisIndex: 0, yAxisIndex: 0, z: 20, silent: true, clip: false, data: priceMarkers.map(v => [v]), renderItem: flagFactory(49, 2)});

// binary panel
let prevClose = binaryFirstOpen;
const binaryBars = binaryCloses.map((c, i) => { const o = prevClose; prevClose = c; return [i, o, c]; });
series.push({type: 'custom', xAxisIndex: 1, yAxisIndex: 1, z: 2, silent: true, data: binaryBars, renderItem: renderMini});

// volume panel
series.push({type: 'custom', xAxisIndex: 2, yAxisIndex: 2, z: 2, silent: true, data: volumes.map((v, i) => [i, v]), renderItem: renderVol});
series.push({type: 'custom', xAxisIndex: 2, yAxisIndex: 2, z: 20, silent: true, clip: false, data: volumeMarker.map(v => [v]), renderItem: flagFactory(27, 0)});

const axisText = {color: '#000', fontSize: 11, fontFamily: FONT};
const yAx = (g, min, max, ticks, fmt) => ({
  gridIndex: g, type: 'value', position: 'right', min: min, max: max,
  axisLine: {show: true, onZero: false, lineStyle: {color: '#000', width: 1.5}},
  axisTick: {show: true, customValues: ticks, length: 5, lineStyle: {color: '#000'}},
  axisLabel: Object.assign({show: true, customValues: ticks, margin: 7, formatter: fmt}, axisText),
  splitLine: {show: false}
});
const gridBase = {left: 4, width: 1529, containLabel: false, outerBoundsMode: 'none'};

const option = {
  backgroundColor: '#ffffff',
  animation: false,
  grid: [
    Object.assign({top: 0, height: 748}, gridBase),
    Object.assign({top: 748, height: 127}, gridBase),
    Object.assign({top: 875, height: 74}, gridBase)
  ],
  xAxis: [
    {gridIndex: 0, type: 'value', min: X_MIN, max: X_MAX, show: false},
    {gridIndex: 1, type: 'value', min: X_MIN, max: X_MAX, show: false},
    {gridIndex: 2, type: 'value', min: X_MIN, max: X_MAX, position: 'bottom',
      axisLine: {show: true, onZero: false, lineStyle: {color: '#000', width: 1.5}},
      axisTick: {show: true, customValues: timeTickIdx, length: 5, lineStyle: {color: '#000'}},
      axisLabel: Object.assign({show: true, customValues: timeTickIdx, margin: 7, align: 'center', alignMinLabel: 'center', alignMaxLabel: 'center', hideOverlap: false,
        formatter: v => timeLabels[Math.round(v / 10)]}, axisText),
      splitLine: {show: false}},
    {gridIndex: 0, type: 'value', min: 0, max: 764.5, show: false},
    {gridIndex: 0, type: 'value', min: -13, max: 751.5, inverse: true, show: false}
  ],
  yAxis: [
    yAx(0, P_MIN, P_MAX, priceTicks, v => v.toFixed(2)),
    yAx(1, B_MIN, B_MAX, binaryTicks, v => String(v)),
    yAx(2, V_MIN, V_MAX, volumeTicks, v => String(v))
  ],
  series: series,
  graphic: [
    {type: 'line', z: 50, shape: {x1: 0, y1: 748.5, x2: 1596, y2: 748.5}, style: {stroke: '#000', lineWidth: 1.5}},
    {type: 'line', z: 50, shape: {x1: 0, y1: 875.5, x2: 1596, y2: 875.5}, style: {stroke: '#000', lineWidth: 1.5}},
    {type: 'line', z: 50, shape: {x1: 0, y1: 949.5, x2: 6, y2: 949.5}, style: {stroke: '#000', lineWidth: 1.5}},
    {type: 'text', z: 60, x: 3, y: 10, style: {text: 'Mindsetto Trade  $50   (NQ 09-16 (10 Seconds),True,True,True,True,True)', font: '11.3px ' + FONT, fill: '#000', align: 'left', verticalAlign: 'middle', textAlign: 'left', textVerticalAlign: 'middle'}},
    {type: 'text', z: 60, x: 1525, y: 153, style: {text: '653', font: 'bold 14px ' + FONT, fill: '#000', align: 'right', verticalAlign: 'middle', textAlign: 'right', textVerticalAlign: 'middle'}},
    {type: 'text', z: 60, x: 7, y: 732, style: {text: 'Second', font: '12px ' + FONT, fill: '#000', align: 'left', verticalAlign: 'middle', textAlign: 'left', textVerticalAlign: 'middle'}},
    {type: 'text', z: 60, x: 2, y: 857, style: {text: 'Recording Binary 03', font: '12px ' + FONT, fill: '#000', align: 'left', verticalAlign: 'middle', textAlign: 'left', textVerticalAlign: 'middle'}},
    {type: 'text', z: 60, x: 2, y: 943, style: {text: '\u00a9 2016 NinjaTrader, LLC', font: '12px ' + FONT, fill: '#555', align: 'left', verticalAlign: 'middle', textAlign: 'left', textVerticalAlign: 'middle'}},
    {type: 'text', z: 60, x: 1384, y: 938, style: {text: 'Time remaining = 00:00:04', font: '11px ' + FONT, fill: '#000', align: 'left', verticalAlign: 'middle', textAlign: 'left', textVerticalAlign: 'middle'}},
    {type: 'polygon', z: 60, shape: {points: [[1502, 8], [1517, 18], [1502, 28]]}, style: {fill: '#000'}},
    {type: 'rect', z: 60, shape: {x: 1518, y: 3, width: 4, height: 25}, style: {fill: '#000'}},
    {type: 'rect', z: 60, shape: {x: 1570.5, y: 2.5, width: 22, height: 18}, style: {fill: '#ececec', stroke: '#a0a0a0', lineWidth: 1}},
    {type: 'polygon', z: 61, shape: {points: [[1577, 9], [1586, 9], [1581.5, 14]]}, style: {fill: '#000'}}
  ]
};
chart.setOption(option);
</script>
</body>
</html>
